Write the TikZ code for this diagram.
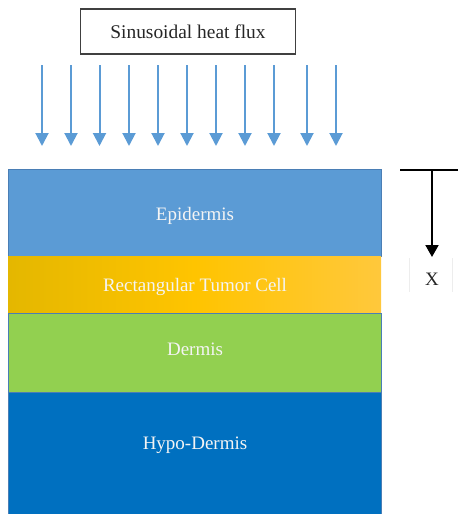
\documentclass[tikz,border=0pt]{standalone}
\usepackage{fontspec}
\setmainfont{Liberation Serif}
\usetikzlibrary{arrows.meta}
\definecolor{epi}{HTML}{5B9BD5}
\definecolor{derm}{HTML}{92D050}
\definecolor{hypo}{HTML}{0070C0}
\definecolor{edgec}{HTML}{4A7EB5}
\definecolor{tumL}{HTML}{E4B700}
\definecolor{tumM}{HTML}{FFC400}
\definecolor{tumR}{HTML}{FFC83C}
\definecolor{txtw}{HTML}{F4F4F4}
\tikzset{
  layer/.style={draw=edgec, line width=0.8pt, minimum width=373pt, inner sep=0pt, anchor=north west,
     text=txtw, font=\fontsize{19}{22}\selectfont},
  flux/.style={draw=epi, line width=2pt, -{Triangle[width=13pt,length=13pt]}},
  xaxis/.style={draw=black, line width=2pt, -{Triangle[width=13pt,length=12pt]}},
}
\begin{document}
\begin{tikzpicture}[x=1pt,y=-1pt]
\useasboundingbox (0,0) rectangle (458,514);
% title
\node[draw=black!75, line width=1.3pt, minimum width=215pt, minimum height=45pt, inner sep=0pt,
  font=\fontsize{19.4}{22}\selectfont, text=black!85] (title) at (188,31.5) {Sinusoidal heat flux};
% flux arrows
\foreach \i/\x in {1/42,2/71,3/99.5,4/129,5/158,6/187,7/216,8/245,9/274,10/307,11/336}{
  \coordinate (s\i) at (\x,65);
  \coordinate (e\i) at (\x,146);
  \draw[flux] (s\i) -- (e\i);
}
% layers
\node[layer, fill=epi, minimum height=87pt] (epidermis) at (8,169) {};
\node[text=txtw, font=\fontsize{19}{22}\selectfont] (epilbl) at (195,216) {Epidermis};
\shade[left color=tumL, right color=tumR, middle color=tumM] (8,256) rectangle (381,312.5);
\node[inner sep=0pt, minimum width=373pt, minimum height=56.5pt, anchor=north west] (tumor) at (8,256) {};
\node[text=txtw, font=\fontsize{19}{22}\selectfont] (tumlbl) at (195,287) {Rectangular Tumor Cell};
\node[layer, fill=derm, minimum height=79pt] (dermis) at (8,313) {};
\node[text=txtw, font=\fontsize{19}{22}\selectfont] (dermlbl) at (195,349) {Dermis};
\node[layer, fill=hypo, minimum height=124pt] (hypodermis) at (8,392) {};
\node[text=txtw, font=\fontsize{19}{22}\selectfont] (hypolbl) at (195,445) {Hypo-Dermis};
% x axis
\coordinate (hl) at (400,170);
\coordinate (hr) at (458,170);
\coordinate (xt) at (432,170);
\coordinate (xb) at (432,257);
\draw[black, line width=2pt] (hl) -- (hr);
\draw[xaxis] (xt) -- (xb);
\draw[black!7, line width=0.6pt] (409,258) -- (409,292) (452,258) -- (452,292);
\node[font=\fontsize{19}{22}\selectfont, text=black!85] (xlbl) at (432,279) {X};
\end{tikzpicture}
\end{document}
